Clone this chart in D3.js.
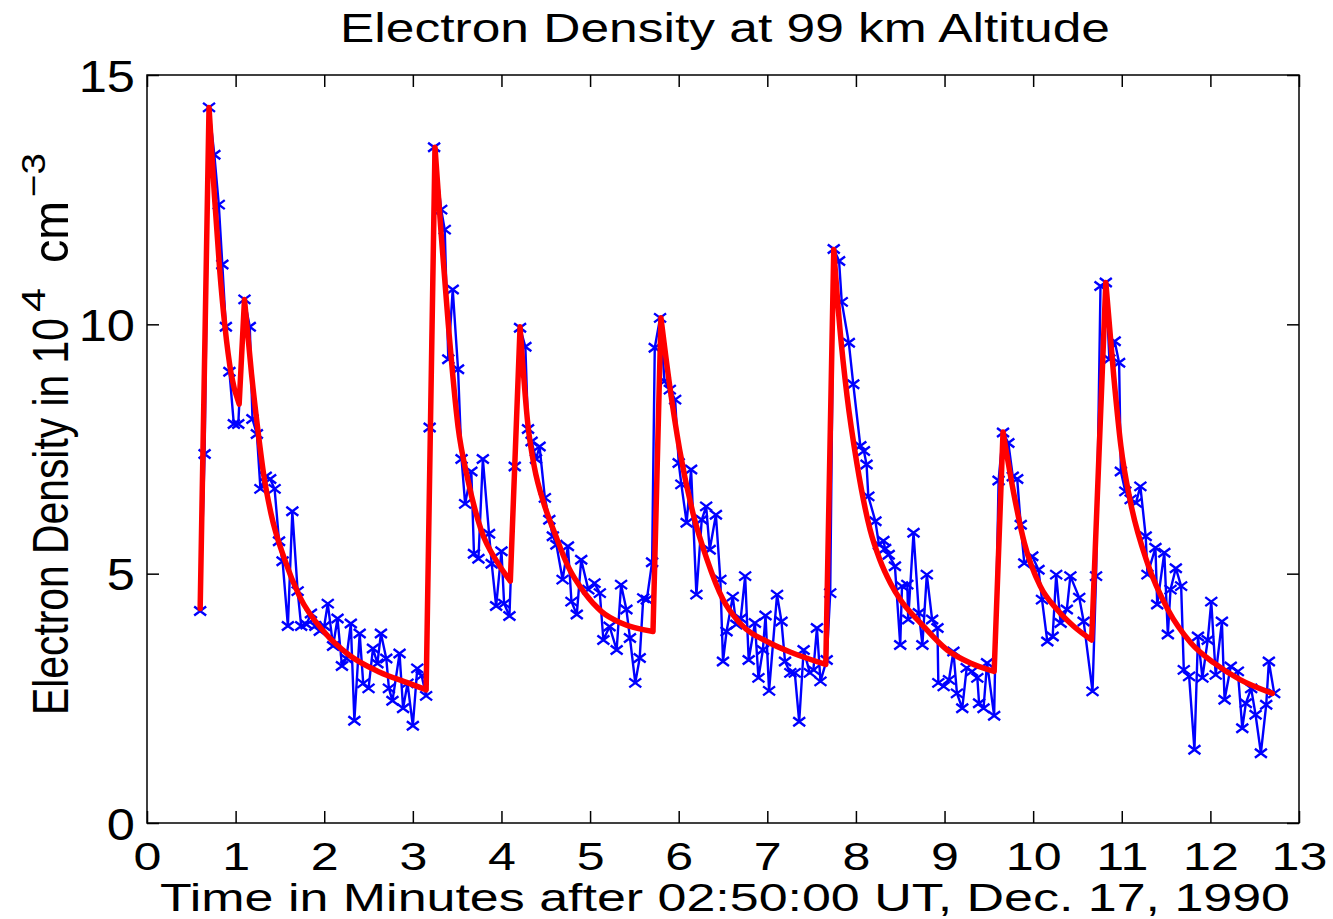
<!DOCTYPE html>
<html>
<head>
<meta charset="utf-8">
<script src="https://cdn.jsdelivr.net/npm/d3@7"></script>
<style>
  body { margin: 0; background: #fff; }
  svg { display: block; }
  text { font-family: "Liberation Sans", Arial, sans-serif; fill: #000; }
</style>
</head>
<body>
<div id="chart"></div>
<script>
// measured electron density (blue, x markers)
const sampleMinutes = [
  0.60, 0.65, 0.70, 0.76, 0.81, 0.85, 0.89, 0.93, 0.98, 1.03,
  1.10, 1.16, 1.19, 1.24, 1.28, 1.34, 1.39, 1.44, 1.49, 1.53,
  1.59, 1.64, 1.70, 1.74, 1.80, 1.85, 1.90, 1.95, 2.00, 2.04,
  2.10, 2.15, 2.20, 2.25, 2.30, 2.34, 2.40, 2.44, 2.50, 2.55,
  2.60, 2.64, 2.70, 2.73, 2.77, 2.85, 2.89, 2.94, 3.00, 3.05,
  3.10, 3.15, 3.19, 3.24, 3.32, 3.36, 3.40, 3.45, 3.51, 3.55,
  3.59, 3.66, 3.69, 3.74, 3.79, 3.86, 3.89, 3.94, 4.00, 4.03,
  4.09, 4.15, 4.21, 4.27, 4.30, 4.34, 4.39, 4.43, 4.49, 4.54,
  4.58, 4.62, 4.69, 4.75, 4.79, 4.85, 4.90, 4.98, 5.05, 5.11,
  5.15, 5.22, 5.30, 5.35, 5.41, 5.45, 5.51, 5.56, 5.60, 5.64,
  5.70, 5.73, 5.79, 5.84, 5.90, 5.96, 6.00, 6.03, 6.09, 6.14,
  6.20, 6.26, 6.31, 6.35, 6.42, 6.47, 6.50, 6.54, 6.61, 6.65,
  6.70, 6.75, 6.79, 6.86, 6.90, 6.95, 6.98, 7.02, 7.11, 7.16,
  7.20, 7.26, 7.31, 7.36, 7.41, 7.48, 7.52, 7.56, 7.60, 7.67,
  7.71, 7.75, 7.81, 7.84, 7.92, 7.97, 8.05, 8.09, 8.12, 8.14,
  8.22, 8.26, 8.31, 8.33, 8.37, 8.44, 8.50, 8.52, 8.58, 8.59,
  8.65, 8.71, 8.75, 8.80, 8.86, 8.92, 8.93, 8.99, 9.05, 9.10,
  9.14, 9.20, 9.25, 9.31, 9.37, 9.39, 9.44, 9.48, 9.56, 9.61,
  9.66, 9.72, 9.77, 9.82, 9.86, 9.90, 9.99, 10.06, 10.10, 10.16,
  10.22, 10.26, 10.31, 10.38, 10.42, 10.52, 10.57, 10.67, 10.71, 10.76,
  10.82, 10.86, 10.92, 10.97, 10.99, 11.04, 11.10, 11.16, 11.21, 11.27,
  11.29, 11.38, 11.40, 11.48, 11.52, 11.55, 11.61, 11.67, 11.70, 11.76,
  11.82, 11.86, 11.91, 11.97, 12.01, 12.06, 12.13, 12.16, 12.23, 12.31,
  12.36, 12.40, 12.46, 12.51, 12.57, 12.63, 12.66, 12.72
];
const sampleDensity = [
  4.25, 7.40, 14.35, 13.40, 12.40, 11.20, 9.95, 9.05, 8.00, 8.00,
  10.50, 9.95, 8.10, 7.80, 6.70, 6.95, 6.90, 6.70, 5.65, 5.25,
  3.95, 6.25, 4.65, 3.95, 3.98, 4.20, 3.95, 3.85, 3.95, 4.40,
  3.55, 4.10, 3.15, 3.30, 4.00, 2.05, 3.80, 2.80, 2.70, 3.50,
  3.20, 3.80, 3.30, 2.70, 2.45, 3.40, 2.30, 2.80, 1.95, 3.10,
  2.95, 2.55, 7.93, 13.55, 12.30, 11.90, 9.30, 10.70, 9.10, 7.30,
  6.40, 7.05, 5.40, 5.30, 7.30, 5.80, 5.20, 4.35, 5.45, 4.40,
  4.15, 7.15, 9.93, 9.55, 7.90, 7.65, 7.30, 7.55, 6.52, 6.08,
  5.75, 5.58, 4.88, 5.55, 4.44, 4.18, 5.28, 4.68, 4.81, 4.61,
  3.67, 3.94, 3.47, 4.78, 4.28, 3.71, 2.81, 3.31, 4.51, 4.48,
  5.23, 9.53, 10.13, 8.86, 8.69, 8.49, 7.22, 6.79, 6.02, 7.09,
  4.58, 6.08, 6.35, 5.48, 6.18, 4.88, 3.24, 3.84, 4.54, 3.98,
  4.10, 4.95, 3.27, 4.01, 2.91, 3.47, 4.16, 2.65, 4.58, 4.04,
  3.24, 3.01, 3.01, 2.03, 3.47, 3.01, 3.07, 3.91, 2.84, 3.27,
  4.61, 11.51, 11.27, 10.45, 9.63, 8.80, 7.56, 7.46, 7.19, 6.55,
  6.05, 5.58, 5.66, 5.50, 5.38, 5.15, 3.57, 4.75, 4.78, 4.08,
  5.82, 4.21, 3.57, 4.98, 4.08, 3.91, 2.81, 2.74, 2.87, 3.44,
  2.60, 2.30, 3.11, 3.04, 2.91, 2.40, 2.30, 3.21, 2.15, 6.87,
  7.83, 7.62, 6.95, 6.90, 5.98, 5.21, 5.35, 5.08, 4.48, 3.64,
  3.74, 4.98, 4.01, 4.28, 4.95, 4.52, 4.04, 2.64, 4.95, 10.77,
  10.84, 9.30, 9.66, 9.23, 7.05, 6.65, 6.49, 6.42, 6.75, 5.75,
  4.98, 5.52, 4.38, 5.42, 3.78, 4.68, 5.11, 4.75, 3.07, 2.94,
  1.47, 3.74, 2.91, 3.67, 4.44, 2.97, 4.04, 2.47, 3.14, 3.04,
  1.90, 2.40, 2.70, 2.17, 1.40, 2.37, 3.24, 2.60
];

// model fit (red): rises are straight, decays follow a smooth curve
const fitMinutes = [
  0.60, 0.70, 0.76, 0.82, 0.88, 0.95, 1.04, 1.10, 1.18, 1.25,
  1.32, 1.40, 1.55, 1.72, 2.00, 2.28, 2.62, 2.96, 3.15, 3.25,
  3.32, 3.40, 3.51, 3.62, 3.77, 3.96, 4.10, 4.21, 4.30, 4.37,
  4.48, 4.60, 4.75, 4.94, 5.13, 5.35, 5.71, 5.80, 5.90, 6.01,
  6.16, 6.32, 6.50, 6.69, 7.03, 7.30, 7.66, 7.75, 7.82, 7.90,
  8.01, 8.16, 8.27, 8.39, 8.50, 8.73, 9.03, 9.29, 9.56, 9.66,
  9.78, 9.90, 10.08, 10.27, 10.46, 10.66, 10.82, 10.91, 10.99, 11.10,
  11.29, 11.52, 11.78, 12.04, 12.34, 12.70
];
const fitDensity = [
  4.30, 14.35, 12.60, 11.10, 9.95, 9.00, 8.40, 10.50, 9.00, 7.90,
  6.95, 6.20, 5.30, 4.55, 3.83, 3.37, 3.03, 2.80, 2.67, 13.55,
  11.80, 10.00, 7.95, 6.89, 5.88, 5.21, 4.85, 9.95, 7.96, 7.15,
  6.40, 5.82, 5.15, 4.61, 4.24, 4.01, 3.84, 10.13, 8.75, 7.49,
  6.22, 5.28, 4.48, 4.01, 3.61, 3.40, 3.18, 11.50, 9.90, 8.56,
  7.22, 5.88, 5.28, 4.81, 4.48, 4.01, 3.47, 3.21, 3.04, 7.84,
  6.62, 5.62, 4.75, 4.28, 3.94, 3.67, 10.84, 8.95, 7.56, 6.42,
  5.21, 4.28, 3.61, 3.21, 2.87, 2.60
];

const xTicks = [0, 1, 2, 3, 4, 5, 6, 7, 8, 9, 10, 11, 12, 13];
const yTicks = [0, 5, 10, 15];

const titleText = 'Electron Density at 99 km Altitude';
const xLabelText = 'Time in Minutes after 02:50:00 UT, Dec. 17, 1990';
const yLabelParts = ['Electron Density in 10', '4', 'cm', '\u22123'];

const drawChart = () => {
  const width = 1333;
  const height = 919;
  const margin = { top: 75, right: 34, bottom: 96, left: 147 };
  const innerWidth = width - margin.left - margin.right;
  const innerHeight = height - margin.top - margin.bottom;

  const root = d3.select('#chart')
    .append('svg')
    .attr('width', width)
    .attr('height', height);

  const svg = root.append('g')
    .attr('transform', `translate(${margin.left},${margin.top})`);

  const xScale = d3.scaleLinear().domain([0, 13]).range([0, innerWidth]);
  const yScale = d3.scaleLinear().domain([0, 15]).range([innerHeight, 0]);

  const samples = sampleMinutes.map((t, i) => ({ t, v: sampleDensity[i] }));
  const fit = fitMinutes.map((t, i) => ({ t, v: fitDensity[i] }));

  // blue measured line
  const line = d3.line()
    .x(d => xScale(d.t))
    .y(d => yScale(d.v));

  svg.append('path')
    .datum(samples)
    .attr('d', line)
    .style('fill', 'none')
    .style('stroke', '#0000ff')
    .style('stroke-width', 2.4)
    .style('stroke-linejoin', 'round');

  // x markers
  svg.append('g')
    .selectAll('path')
    .data(samples)
    .join('path')
    .attr('transform', d => `translate(${xScale(d.t)},${yScale(d.v)})`)
    .attr('d', 'M-6,-4.5L6,4.5M-6,4.5L6,-4.5')
    .style('fill', 'none')
    .style('stroke', '#0000ff')
    .style('stroke-width', 2.4);

  // red fit: split into decaying runs, joined by straight rises
  const runs = [];
  let run = [fit[0]];
  for (let i = 1; i < fit.length; i++) {
    if (fit[i].v > fit[i - 1].v) {
      runs.push(run);
      run = [fit[i]];
    } else {
      run.push(fit[i]);
    }
  }
  runs.push(run);

  const smooth = d3.line()
    .x(d => xScale(d.t))
    .y(d => yScale(d.v))
    .curve(d3.curveMonotoneX);

  let fitPath = '';
  runs.forEach((r, i) => {
    const seg = r.length > 1 ? smooth(r) : line(r);
    fitPath += i === 0 ? seg : 'L' + seg.slice(1);
  });

  svg.append('path')
    .attr('d', fitPath)
    .style('fill', 'none')
    .style('stroke', '#ff0000')
    .style('stroke-width', 5.5)
    .style('stroke-linejoin', 'round')
    .style('stroke-linecap', 'round');

  // axes, ticks pointing inward
  const tick = 12;
  const bottom = svg.append('g')
    .attr('transform', `translate(0,${innerHeight})`)
    .call(d3.axisBottom(xScale).tickValues(xTicks).tickSize(-tick).tickPadding(0).tickFormat(d3.format('d')));
  bottom.selectAll('text')
    .attr('y', 0)
    .attr('dy', 0)
    .attr('transform', 'translate(0,47) scale(1.32,1)')
    .style('font-size', '38px');

  svg.append('g')
    .call(d3.axisTop(xScale).tickValues(xTicks).tickSize(-tick).tickFormat(''));

  const left = svg.append('g')
    .call(d3.axisLeft(yScale).tickValues(yTicks).tickSize(-tick).tickPadding(0).tickFormat(d3.format('d')));
  left.selectAll('text')
    .attr('x', 0)
    .attr('dy', 0)
    .attr('transform', 'translate(-12,16) scale(1.15,1)')
    .style('font-size', '44px');

  svg.append('g')
    .attr('transform', `translate(${innerWidth},0)`)
    .call(d3.axisRight(yScale).tickValues(yTicks).tickSize(-tick).tickFormat(''));

  svg.selectAll('.domain').remove();
  svg.selectAll('.tick line').style('stroke', '#000').style('stroke-width', 1.5);

  svg.append('rect')
    .attr('width', innerWidth)
    .attr('height', innerHeight)
    .style('fill', 'none')
    .style('stroke', '#000')
    .style('stroke-width', 1.5);

  // title and labels
  root.append('text')
    .attr('x', 340)
    .attr('y', 42)
    .attr('textLength', 770)
    .attr('lengthAdjust', 'spacingAndGlyphs')
    .style('font-size', '40px')
    .text(titleText);

  root.append('text')
    .attr('x', 160)
    .attr('y', 911)
    .attr('textLength', 1130)
    .attr('lengthAdjust', 'spacingAndGlyphs')
    .style('font-size', '38px')
    .text(xLabelText);

  // rotated y label, condensed, with superscripts
  const yLabelPieces = [
    { text: yLabelParts[0], x: 68, y: 715, size: 50, len: 397 },
    { text: yLabelParts[1], x: 45, y: 312, size: 34, len: 24 },
    { text: yLabelParts[2], x: 68, y: 263, size: 50, len: 62 },
    { text: yLabelParts[3], x: 45, y: 197, size: 34, len: 44 }
  ];
  root.append('g')
    .selectAll('text')
    .data(yLabelPieces)
    .join('text')
    .attr('transform', d => `translate(${d.x},${d.y}) rotate(-90)`)
    .attr('textLength', d => d.len)
    .attr('lengthAdjust', 'spacingAndGlyphs')
    .style('font-size', d => d.size + 'px')
    .text(d => d.text);
};

drawChart();
</script>
</body>
</html>
